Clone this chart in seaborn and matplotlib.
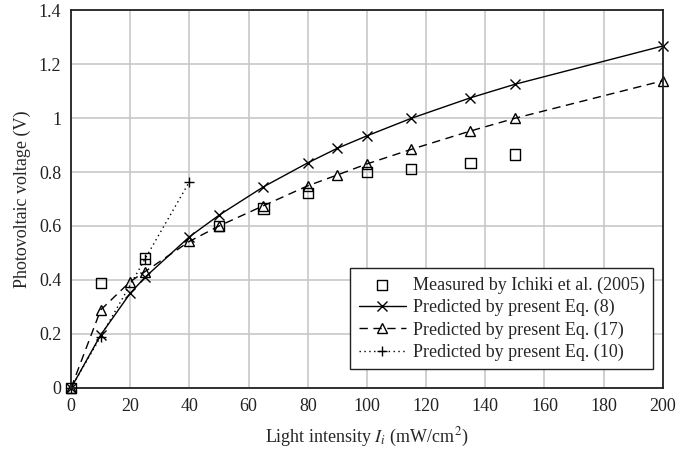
import numpy as np
import pandas as pd
import matplotlib
matplotlib.use("Agg")
import matplotlib.pyplot as plt
import seaborn as sns

# data
meas_x = [0, 10, 25, 50, 65, 80, 100, 115, 135, 150]
meas_y = [0, 0.39, 0.48, 0.60, 0.665, 0.722, 0.80, 0.811, 0.834, 0.865]

eq8_x = [0, 10, 20, 25, 40, 50, 65, 80, 90, 100, 115, 135, 150, 200]
eq8_y = [0, 0.196, 0.351, 0.41, 0.56, 0.64, 0.745, 0.834, 0.888, 0.934, 0.999, 1.075, 1.125, 1.267]

eq17_x = [0, 10, 20, 25, 40, 50, 65, 80, 90, 100, 115, 135, 150, 200]
eq17_y = [0, 0.289, 0.394, 0.431, 0.543, 0.60, 0.675, 0.749, 0.789, 0.830, 0.884, 0.952, 0.999, 1.138]

eq10_x = [0, 10, 25, 40]
eq10_y = [0, 0.19, 0.478, 0.764]

sns.set_style("white")
plt.rcParams['font.family'] = ['Liberation Serif', 'DejaVu Serif']
plt.rcParams['mathtext.fontset'] = 'stix'

fig, ax = plt.subplots(figsize=(6.77, 4.58), dpi=100)

sns.scatterplot(x=meas_x, y=meas_y, ax=ax, marker='s', s=55, facecolor='none',
                edgecolor='black', linewidth=1.0, label='Measured by Ichiki et al. (2005)',
                zorder=5, clip_on=False)
sns.lineplot(x=eq8_x, y=eq8_y, ax=ax, color='black', linewidth=1.0, marker='x',
             markersize=7, markeredgecolor='black', markeredgewidth=1.0,
             label='Predicted by present Eq. (8)', clip_on=False)
sns.lineplot(x=eq17_x, y=eq17_y, ax=ax, color='black', linewidth=1.0, marker='^',
             markersize=7, markerfacecolor='none', markeredgecolor='black', markeredgewidth=1.0,
             dashes=False, linestyle=(0, (6, 4)), label='Predicted by present Eq. (17)', clip_on=False)
sns.lineplot(x=eq10_x, y=eq10_y, ax=ax, color='black', linewidth=1.0, marker='+',
             markersize=7, markeredgecolor='black', markeredgewidth=1.0, dashes=False,
             linestyle=(0, (1, 2.5)), label='Predicted by present Eq. (10)', clip_on=False)

ax.set_xlim(0, 200)
ax.set_ylim(0, 1.4)
ax.set_xticks(np.arange(0, 201, 20))
ax.set_yticks(np.arange(0, 1.41, 0.2))
ax.set_yticklabels(['0', '0.2', '0.4', '0.6', '0.8', '1', '1.2', '1.4'])
ax.grid(True, color='#c4c4c4', linewidth=1.1)
ax.set_axisbelow(True)
for sp in ax.spines.values():
    sp.set_color('#222222')
    sp.set_linewidth(1.3)
ax.tick_params(direction='in', length=5, width=1.2, labelsize=13, colors='#222222', pad=7)

ax.set_xlabel('Light intensity $I_i$ (mW/cm$^2$)', fontsize=13, labelpad=8)
ax.set_ylabel('Photovoltaic voltage (V)', fontsize=13, labelpad=6)

leg = ax.legend(loc='lower right', bbox_to_anchor=(0.983, 0.05), borderaxespad=0,
                fontsize=13, frameon=True, fancybox=False, edgecolor='#222222', framealpha=1,
                handlelength=2.6, borderpad=0.45, labelspacing=0.28, handletextpad=0.4)
leg.get_frame().set_linewidth(1.0)

plt.subplots_adjust(left=0.105, right=0.979, bottom=0.153, top=0.978)
plt.savefig('out.png', dpi=100)
